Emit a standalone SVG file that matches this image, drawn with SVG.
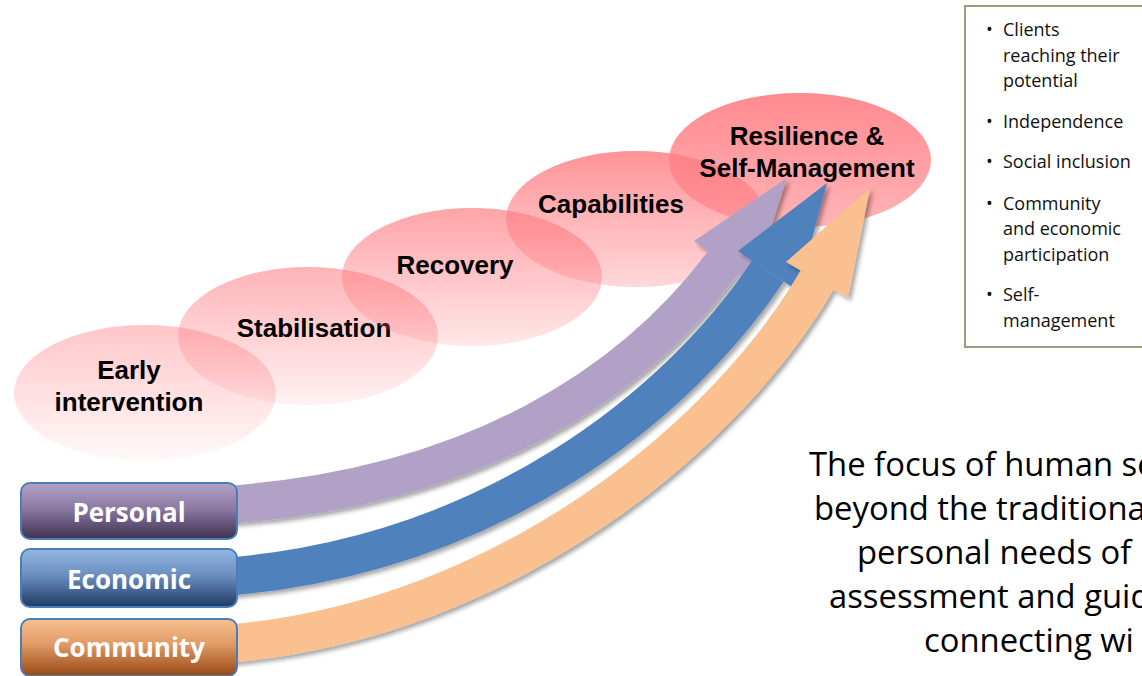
<svg xmlns="http://www.w3.org/2000/svg" width="1142" height="676" viewBox="0 0 1142 676">
  <defs>
    <style>
      .stage { font-family: "Liberation Sans", Arial, sans-serif; font-weight: bold; font-size: 26px; fill: #000; text-anchor: middle; }
      .tag { font-family: "Open Sans", "Noto Sans", sans-serif; font-weight: bold; font-size: 26px; fill: #fff; text-anchor: middle; }
      .tagbox { stroke: #4a7ebb; stroke-width: 2; }
      .bul { font-family: "Open Sans", "Noto Sans", sans-serif; font-size: 18px; fill: #111; }
      .lead { font-family: "Open Sans", "Noto Sans", sans-serif; font-size: 32.8px; fill: #000; }
      .shaft { fill: none; stroke-width: 38; stroke-linecap: butt; }
    </style>
    <linearGradient id="g1" x1="0" y1="0" x2="0" y2="1">
      <stop offset="0" stop-color="#ff7d83" stop-opacity="0.44"/>
      <stop offset="1" stop-color="#ff7d83" stop-opacity="0.04"/>
    </linearGradient>
    <linearGradient id="g2" x1="0" y1="0" x2="0" y2="1">
      <stop offset="0" stop-color="#ff7d83" stop-opacity="0.58"/>
      <stop offset="1" stop-color="#ff7d83" stop-opacity="0.10"/>
    </linearGradient>
    <linearGradient id="g3" x1="0" y1="0" x2="0" y2="1">
      <stop offset="0" stop-color="#ff7d83" stop-opacity="0.70"/>
      <stop offset="1" stop-color="#ff7d83" stop-opacity="0.18"/>
    </linearGradient>
    <linearGradient id="g4" x1="0" y1="0" x2="0" y2="1">
      <stop offset="0" stop-color="#ff7d83" stop-opacity="0.83"/>
      <stop offset="1" stop-color="#ff7d83" stop-opacity="0.30"/>
    </linearGradient>
    <linearGradient id="g5" x1="0" y1="0" x2="0" y2="1">
      <stop offset="0" stop-color="#ff7d83" stop-opacity="0.90"/>
      <stop offset="1" stop-color="#ff7d83" stop-opacity="0.58"/>
    </linearGradient>
    <linearGradient id="gPersonal" x1="0" y1="0" x2="0" y2="1">
      <stop offset="0" stop-color="#b3a2c7"/>
      <stop offset="0.45" stop-color="#8c7aa3"/>
      <stop offset="1" stop-color="#3f3052"/>
    </linearGradient>
    <linearGradient id="gEconomic" x1="0" y1="0" x2="0" y2="1">
      <stop offset="0" stop-color="#95b6e3"/>
      <stop offset="0.45" stop-color="#6a8fc0"/>
      <stop offset="1" stop-color="#1f3a66"/>
    </linearGradient>
    <linearGradient id="gCommunity" x1="0" y1="0" x2="0" y2="1">
      <stop offset="0" stop-color="#f9c090"/>
      <stop offset="0.45" stop-color="#e09a65"/>
      <stop offset="1" stop-color="#974814"/>
    </linearGradient>
    <filter id="shadow" x="-10%" y="-10%" width="130%" height="130%">
      <feDropShadow dx="3" dy="3" stdDeviation="2" flood-color="#000" flood-opacity="0.35"/>
    </filter>
  </defs>

  <rect width="1142" height="676" fill="#fff"/>

  <!-- stages: overlapping translucent ellipses -->
  <g id="stage-early">
    <ellipse cx="145" cy="393" rx="131" ry="68" fill="url(#g1)"/>
    <text class="stage" x="129" y="379">Early</text>
    <text class="stage" x="129" y="411">intervention</text>
  </g>
  <g id="stage-stabilisation">
    <ellipse cx="308" cy="336" rx="130" ry="69" fill="url(#g2)"/>
    <text class="stage" x="314" y="337">Stabilisation</text>
  </g>
  <g id="stage-recovery">
    <ellipse cx="472" cy="277" rx="130" ry="69" fill="url(#g3)"/>
    <text class="stage" x="455" y="274">Recovery</text>
  </g>
  <g id="stage-capabilities">
    <ellipse cx="636" cy="219" rx="130" ry="68" fill="url(#g4)"/>
    <text class="stage" x="611" y="213">Capabilities</text>
  </g>
  <g id="stage-resilience">
    <ellipse cx="800" cy="160" rx="131" ry="67" fill="url(#g5)"/>
    <text class="stage" x="807" y="145">Resilience &amp;</text>
    <text class="stage" x="807" y="177">Self-Management</text>
  </g>

  <!-- curved block arrows from the three domains -->
  <g id="connectors">
    <g id="arrow-personal" filter="url(#shadow)" fill="#b2a1c7">
      <path class="shaft" stroke="#b2a1c7" d="M225 505 C475 488 633 383 723 263"/>
      <polygon points="787,178 694,241 752,285"/>
    </g>
    <g id="arrow-economic" filter="url(#shadow)" fill="#4f81bd">
      <path class="shaft" stroke="#4f81bd" d="M225 577 C494 555 679 404 768 271"/>
      <polygon points="827,183 738,251 798,291"/>
    </g>
    <g id="arrow-community" filter="url(#shadow)" fill="#fac08f">
      <path class="shaft" stroke="#fac08f" d="M225 644 C514 620 732 427 817 280"/>
      <polygon points="870,188 786,262 848,298"/>
    </g>
  </g>

  <!-- domain labels -->
  <g id="personal">
    <rect class="tagbox" x="21" y="483" width="216" height="56" rx="9" fill="url(#gPersonal)"/>
    <text class="tag" x="129" y="522">Personal</text>
  </g>
  <g id="economic">
    <rect class="tagbox" x="21" y="549" width="216" height="58" rx="9" fill="url(#gEconomic)"/>
    <text class="tag" x="129" y="589">Economic</text>
  </g>
  <g id="community">
    <rect class="tagbox" x="21" y="619" width="216" height="57" rx="9" fill="url(#gCommunity)"/>
    <text class="tag" x="129" y="657">Community</text>
  </g>

  <!-- outcomes list -->
  <g id="outcomes">
    <rect x="965" y="6" width="200" height="341" fill="#fff" stroke="#a09b7c" stroke-width="2"/>
    <g class="bul">
      <text x="986" y="36">•</text>
      <text x="1003" y="36">Clients</text>
      <text x="1003" y="62">reaching their</text>
      <text x="1003" y="87">potential</text>
      <text x="986" y="128">•</text>
      <text x="1003" y="128">Independence</text>
      <text x="986" y="168">•</text>
      <text x="1003" y="168">Social inclusion</text>
      <text x="986" y="210">•</text>
      <text x="1003" y="210">Community</text>
      <text x="1003" y="235">and economic</text>
      <text x="1003" y="261">participation</text>
      <text x="986" y="301">•</text>
      <text x="1003" y="301">Self-</text>
      <text x="1003" y="327">management</text>
    </g>
  </g>

  <!-- statement text -->
  <g id="statement" class="lead">
    <text x="809" y="476">The focus of human se</text>
    <text x="814" y="520">beyond the traditiona</text>
    <text x="857" y="564">personal needs of</text>
    <text x="829" y="608">assessment and guid</text>
    <text x="924" y="652">connecting wi</text>
  </g>
</svg>
